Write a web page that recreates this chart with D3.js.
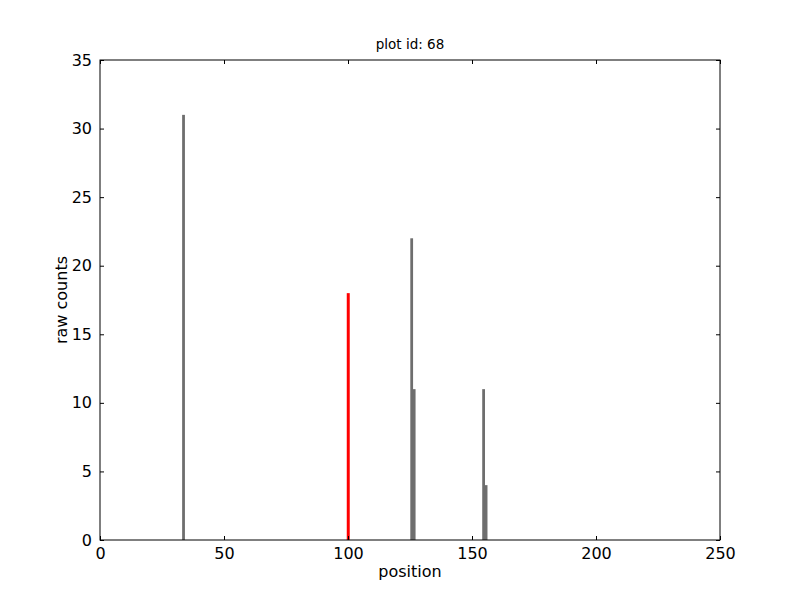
<!DOCTYPE html>
<html>
<head>
<meta charset="utf-8">
<script src="https://cdn.jsdelivr.net/npm/d3@7"></script>
<style>
  body { margin: 0; background: #fff; }
  text { font-family: "DejaVu Sans", sans-serif; }
</style>
</head>
<body>
<div id="chart"></div>
<script>
// read positions / counts
const positions = [33, 125, 126, 154, 155];
const counts = [31, 22, 11, 11, 4];
const markPos = [100];
const markCount = [18];
const xTicks = [0, 50, 100, 150, 200, 250];
const yTicks = [0, 5, 10, 15, 20, 25, 30, 35];

const width = 800, height = 600;
const margin = { top: 60, right: 80, bottom: 60, left: 100 };

const svg = d3.select("#chart").append("svg")
    .attr("width", width)
    .attr("height", height);

const x = d3.scaleLinear().domain([0, 250]).range([margin.left, width - margin.right]);
const y = d3.scaleLinear().domain([0, 35]).range([height - margin.bottom, margin.top]);

// bars
svg.append("g")
    .selectAll("rect")
    .data(positions.map((p, i) => ({ p, c: counts[i] })))
    .enter().append("rect")
    .attr("x", d => x(d.p) + 0.3)
    .attr("width", d => x(d.p + 1) - x(d.p) + 0.3)
    .attr("y", d => y(d.c))
    .attr("height", d => y(0) - y(d.c))
    .attr("fill", "#6e6e6e");

svg.append("g")
    .selectAll("rect")
    .data(markPos.map((p, i) => ({ p, c: markCount[i] })))
    .enter().append("rect")
    .attr("x", d => x(d.p - 0.5))
    .attr("width", d => x(d.p + 0.5) - x(d.p - 0.5) + 0.5)
    .attr("y", d => y(d.c))
    .attr("height", d => y(0) - y(d.c))
    .attr("fill", "#ff0000");

// axes, ticks inside on all sides
const tickLen = 4;
const xb = svg.append("g").attr("transform", `translate(0,${y(0)})`)
    .call(d3.axisBottom(x).tickValues(xTicks).tickSizeInner(-tickLen).tickSizeOuter(0).tickPadding(8));
const xt = svg.append("g").attr("transform", `translate(0,${y(35)})`)
    .call(d3.axisTop(x).tickValues(xTicks).tickSizeInner(-tickLen).tickSizeOuter(0).tickFormat(""));
const yl = svg.append("g").attr("transform", `translate(${x(0)},0)`)
    .call(d3.axisLeft(y).tickValues(yTicks).tickSizeInner(-tickLen).tickSizeOuter(0).tickPadding(8));
const yr = svg.append("g").attr("transform", `translate(${x(250)},0)`)
    .call(d3.axisRight(y).tickValues(yTicks).tickSizeInner(-tickLen).tickSizeOuter(0).tickFormat(""));

[xb, xt, yl, yr].forEach(g => {
    g.select(".domain").remove();
    g.selectAll("line").attr("stroke", "#000");
    g.selectAll("text").attr("font-size", 16).attr("fill", "#000")
        .style("font-family", "DejaVu Sans, sans-serif");
});

svg.append("rect")
    .attr("x", x(0)).attr("y", y(35))
    .attr("width", x(250) - x(0)).attr("height", y(0) - y(35))
    .attr("fill", "none").attr("stroke", "#000").attr("stroke-width", 1);

svg.append("text")
    .attr("x", (x(0) + x(250)) / 2).attr("y", 49)
    .attr("text-anchor", "middle").attr("font-size", 13.5)
    .text("plot id: 68");

svg.append("text")
    .attr("x", (x(0) + x(250)) / 2).attr("y", 577)
    .attr("text-anchor", "middle").attr("font-size", 16)
    .text("position");

svg.append("text")
    .attr("transform", `translate(67,${(y(0) + y(35)) / 2}) rotate(-90)`)
    .attr("text-anchor", "middle").attr("font-size", 16)
    .text("raw counts");
</script>
</body>
</html>
